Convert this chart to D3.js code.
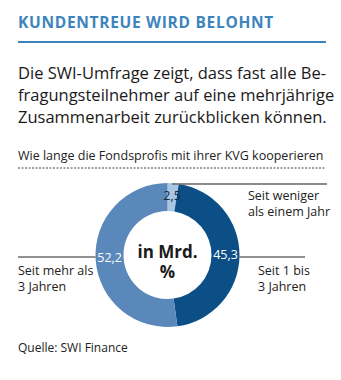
<!DOCTYPE html>
<html>
<head>
<meta charset="utf-8">
<script src="https://cdn.jsdelivr.net/npm/d3@7"></script>
<style>
  body { margin: 0; background: #fff; }
  svg { display: block; font-family: "Open Sans", "Noto Sans", sans-serif; }
</style>
</head>
<body>
<svg id="chart" width="341" height="380"></svg>
<script>
const categories = ["Seit weniger als einem Jahr", "Seit 1 bis 3 Jahren", "Seit mehr als 3 Jahren"];
const values = [2.5, 45.3, 52.2];
const sliceColors = ["#aac6e6", "#0b4f86", "#5a88ba"];
const labelColors = ["#1a2a3a", "#ffffff", "#ffffff"];

const svg = d3.select("#chart");

// header
svg.append("text")
    .attr("x", 18).attr("y", 28)
    .attr("fill", "#3d84bd")
    .style("font-size", "15.5px")
    .style("font-weight", "bold")
    .style("letter-spacing", "0.7px")
    .text("KUNDENTREUE WIRD BELOHNT");

svg.append("line")
    .attr("x1", 18).attr("x2", 326)
    .attr("y1", 42).attr("y2", 42)
    .attr("stroke", "#3d84bd")
    .attr("stroke-width", 2);

const intro = ["Die SWI-Umfrage zeigt, dass fast alle Be-",
    "fragungsteilnehmer auf eine mehrjährige",
    "Zusammenarbeit zurückblicken können."];
svg.append("g").selectAll("text")
    .data(intro)
    .join("text")
    .attr("x", 18)
    .attr("y", (d, i) => 79 + i * 22)
    .attr("fill", "#1a1a1a")
    .style("font-size", "16.5px")
    .text(d => d);

svg.append("text")
    .attr("x", 18).attr("y", 160)
    .attr("fill", "#222")
    .style("font-size", "12.5px")
    .text("Wie lange die Fondsprofis mit ihrer KVG kooperieren");

svg.append("line")
    .attr("x1", 18).attr("x2", 326)
    .attr("y1", 168).attr("y2", 168)
    .attr("stroke", "#444")
    .attr("stroke-width", 1)
    .attr("stroke-dasharray", "2,1.5");

// donut
const cx = 167.5, cy = 255, outerR = 72, innerR = 44;

const pie = d3.pie().sort(null).value(d => d);
const arc = d3.arc().innerRadius(innerR).outerRadius(outerR);
const arcs = pie(values);

const g = svg.append("g").attr("transform", `translate(${cx},${cy})`);

g.selectAll("path")
    .data(arcs)
    .join("path")
    .attr("d", arc)
    .attr("fill", (d, i) => sliceColors[i]);

g.selectAll("text.val")
    .data(arcs)
    .join("text")
    .attr("class", "val")
    .attr("x", d => arc.centroid(d)[0])
    .attr("y", d => arc.centroid(d)[1] + 3)
    .attr("text-anchor", "middle")
    .attr("fill", (d, i) => labelColors[i])
    .style("font-size", "12.5px")
    .text(d => String(d.data).replace(".", ","));

g.append("text")
    .attr("y", 3)
    .attr("text-anchor", "middle")
    .attr("fill", "#1a1a1a")
    .style("font-size", "17px")
    .style("font-weight", "bold")
    .text("in Mrd.");
g.append("text")
    .attr("y", 23)
    .attr("text-anchor", "middle")
    .attr("fill", "#1a1a1a")
    .style("font-size", "17px")
    .style("font-weight", "bold")
    .text("%");

// leader lines
const top0 = arc.centroid(arcs[0]);
svg.append("line")
    .attr("x1", cx + top0[0]).attr("x2", 327)
    .attr("y1", cy - outerR + 1).attr("y2", cy - outerR + 1)
    .attr("stroke", "#666").attr("stroke-width", 1.5);

svg.append("line")
    .attr("x1", cx + outerR).attr("x2", 305)
    .attr("y1", cy + 2).attr("y2", cy + 2)
    .attr("stroke", "#222").attr("stroke-width", 1);

svg.append("line")
    .attr("x1", 18).attr("x2", cx - outerR)
    .attr("y1", cy + 2).attr("y2", cy + 2)
    .attr("stroke", "#222").attr("stroke-width", 1);

// category labels
const labelLines = [
    { x: 248, y: 200, lines: ["Seit weniger", "als einem Jahr"] },
    { x: 258, y: 275, lines: ["Seit 1 bis", "3 Jahren"] },
    { x: 18, y: 275, lines: ["Seit mehr als", "3 Jahren"] }
];
labelLines.forEach(l => {
    svg.append("text")
        .attr("x", l.x).attr("y", l.y)
        .attr("fill", "#222")
        .style("font-size", "12.5px")
        .selectAll("tspan")
        .data(l.lines)
        .join("tspan")
        .attr("x", l.x)
        .attr("dy", (d, i) => i === 0 ? 0 : 16)
        .text(d => d);
});

svg.append("text")
    .attr("x", 18).attr("y", 352)
    .attr("fill", "#222")
    .style("font-size", "12px")
    .text("Quelle: SWI Finance");
</script>
</body>
</html>
